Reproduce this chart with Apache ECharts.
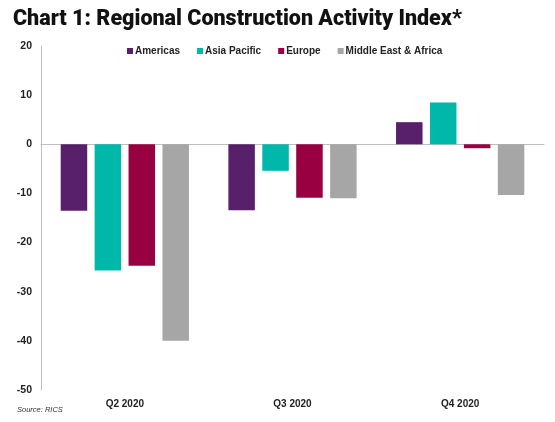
<!DOCTYPE html>
<html><head><meta charset="utf-8">
<script src="https://cdn.jsdelivr.net/npm/echarts@6/dist/echarts.min.js"></script>
<style>html,body{margin:0;padding:0;background:#fff}#c{width:555px;height:422px}</style>
</head><body><div id="c"></div>
<script>
const categories = ['Q2 2020', 'Q3 2020', 'Q4 2020'];
const americas = [-13.5, -13.4, 4.5];
const asiaPacific = [-25.7, -5.4, 8.5];
const europe = [-24.7, -10.9, -0.8];
const middleEastAfrica = [-40.0, -11.0, -10.3];
const seriesNames = ['Americas', 'Asia Pacific', 'Europe', 'Middle East & Africa'];
const colors = ['#58206A', '#00B8AA', '#990041', '#A6A6A6'];

const chart = echarts.init(document.getElementById('c'), null, {renderer: 'canvas'});
const data = [americas, asiaPacific, europe, middleEastAfrica];
const lblFont = 'Liberation Sans, Arial, sans-serif';
chart.setOption({
  animation: false,
  color: colors,
  title: [{
    text: 'Chart 1: Regional Construction Activity Index*',
    left: 8, top: 4,
    textStyle: {fontFamily: 'Roboto', fontWeight: 900, fontSize: 21.5, color: '#111'}
  }, {
    text: 'Source: RICS',
    left: 12, top: 401,
    textStyle: {fontFamily: lblFont, fontStyle: 'italic', fontWeight: 'normal', fontSize: 7.5, color: '#333'}
  }],
  legend: {
    data: seriesNames,
    left: 122, top: 41,
    icon: 'rect', itemWidth: 6, itemHeight: 6, itemGap: 17,
    textStyle: {fontFamily: lblFont, fontWeight: 'bold', fontSize: 10, color: '#222', padding: [0, 0, 0, -3]}
  },
  grid: {left: 41, right: 11, top: 46, bottom: 32, containLabel: false},
  xAxis: [{
    type: 'category', data: categories, position: 'bottom',
    axisLine: {show: false, onZero: false}, axisTick: {show: false},
    axisLabel: {margin: 9, fontFamily: lblFont, fontWeight: 'bold', fontSize: 10, color: '#222'}
  }, {
    type: 'category', data: categories,
    axisLine: {show: true, onZero: true, lineStyle: {color: '#BFBFBF', width: 1}},
    axisTick: {show: false}, axisLabel: {show: false}
  }],
  yAxis: {
    type: 'value', min: -50, max: 20, interval: 10,
    axisLine: {show: true, lineStyle: {color: '#BFBFBF', width: 1}},
    axisTick: {show: false}, splitLine: {show: false},
    axisLabel: {margin: 9, fontFamily: lblFont, fontWeight: 'bold', fontSize: 10.5, color: '#222'}
  },
  series: seriesNames.map((n, i) => ({
    name: n, type: 'bar', data: data[i], xAxisIndex: 0,
    barWidth: 26.5, barGap: '28%'
  }))
});
</script></body></html>
